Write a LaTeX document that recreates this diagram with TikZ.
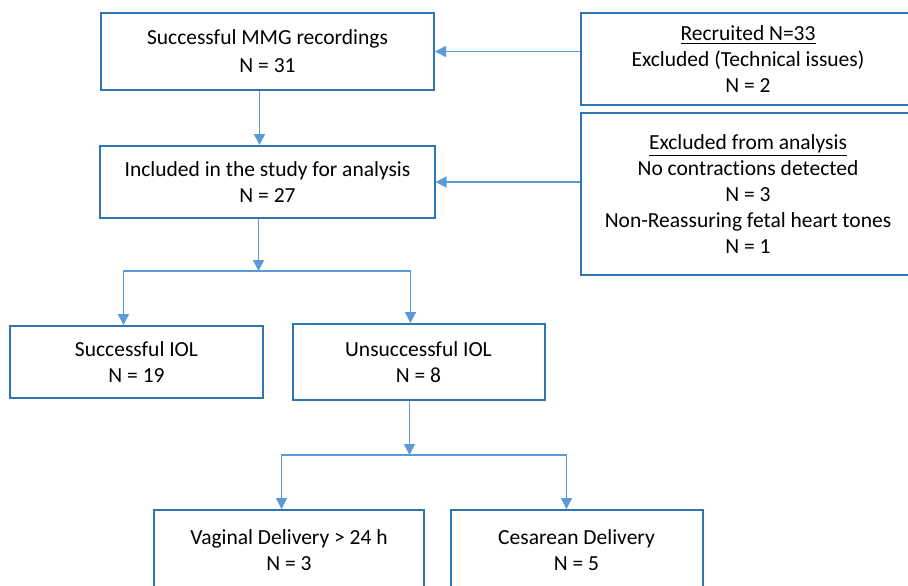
\documentclass[tikz,border=0pt]{standalone}
\usepackage{fontspec}
\setmainfont{Carlito}[Ligatures=NoCommon]
\usepackage{tikz}
\usetikzlibrary{arrows.meta,positioning}
\definecolor{boxblue}{RGB}{46,117,182}
\definecolor{lineblue}{RGB}{91,155,213}
\begin{document}
\begin{tikzpicture}[>={Triangle[width=5.5pt,length=5.5pt]}, font=\fontsize{10.75pt}{13pt}\selectfont]
        \tikzstyle{flownode}=[rectangle, draw=boxblue, line width=1pt, fill=white, inner sep=0pt, align=center]
        \tikzstyle{flowline}=[->, draw=lineblue, line width=0.75pt]
        \useasboundingbox (-133.75pt,25.75pt) rectangle (320.25pt,-266.75pt);
        \node[flownode, minimum width=166.5pt, minimum height=38.5pt] (mmg) at (0,0) {Successful MMG recordings\\[1pt]N = 31};
        \node[flownode, minimum width=167pt, minimum height=36pt, below=27pt of mmg] (incl) {Included in the study for analysis\\N = 27};
        \node[flownode, minimum width=167pt, minimum height=46pt, right=72.5pt of mmg.north east, anchor=north west] (recruit) {\underline{Recruited N=33}\\Excluded (Technical issues)\\N = 2};
        \node[flownode, minimum width=167pt, minimum height=81pt, below=3pt of recruit.south west, anchor=north west] (exclan) {\underline{Excluded from analysis}\\No contractions detected\\N = 3\\Non-Reassuring fetal heart tones\\N = 1};
        \node[flownode, minimum width=126pt, minimum height=36pt, below left=53pt and 45pt of incl.south west, anchor=north west] (iolok) {Successful IOL\\N = 19};
        \node[flownode, minimum width=126pt, minimum height=38pt, right=14pt of iolok] (iolfail) {Unsuccessful IOL\\N = 8};
        \node[flownode, minimum width=134.5pt, minimum height=40pt, below left=54pt and 69pt of iolfail.south west, anchor=north west] (vaginal) {Vaginal Delivery > 24 h\\N = 3};
        \node[flownode, minimum width=126pt, minimum height=40pt, right=12.5pt of vaginal] (cesar) {Cesarean Delivery\\N = 5};
        % exclusions
        \draw[flowline] (recruit.west |- mmg.east) -- (mmg.east);
        \draw[flowline] (exclan.west |- incl.east) -- (incl.east);
        \draw[flowline] ([xshift=-4pt]mmg.south) coordinate (t) -- (t |- incl.north);
        % first split
        \coordinate (split1) at ([xshift=-4.5pt,yshift=-26pt]incl.south);
        \draw[flowline] (incl.south -| split1) -- (split1);
        \draw[flowline] (split1) -| ([xshift=-6.5pt]iolok.north);
        \draw[flowline] (split1) -| ([xshift=-4pt]iolfail.north);
        % second split
        \coordinate (split2) at ([xshift=-4.5pt,yshift=-27pt]iolfail.south);
        \draw[flowline] (iolfail.south -| split2) -- (split2);
        \draw[flowline] (split2) -| ([xshift=-3.75pt]vaginal.north);
        \draw[flowline] (split2) -| ([xshift=-5pt]cesar.north);
    \end{tikzpicture}
\end{document}
